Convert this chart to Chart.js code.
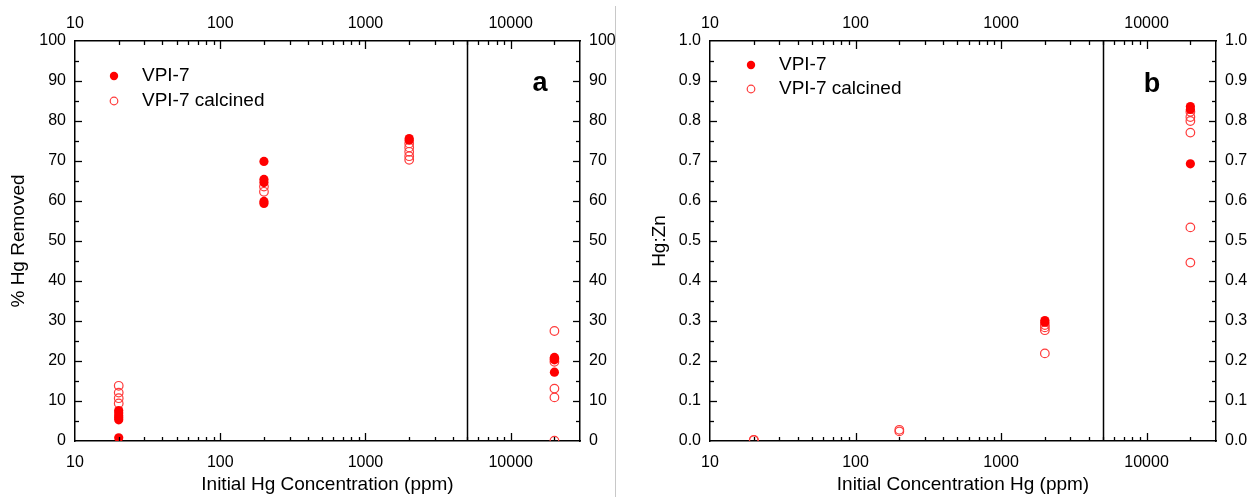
<!DOCTYPE html>
<html>
<head>
<meta charset="utf-8">
<script src="https://cdn.jsdelivr.net/npm/chart.js@4.4.0/dist/chart.umd.min.js"></script>
<style>
  html, body { margin: 0; padding: 0; background: #fff; }
  #wrap { position: relative; width: 1253px; height: 502px; }
  #boxA { position: absolute; left: 0; top: 0; width: 615px; height: 502px; }
  #boxB { position: absolute; left: 616px; top: 0; width: 637px; height: 502px; }
  #sep { position: absolute; left: 615px; top: 6px; width: 1px; height: 491px; background: #c8c8c8; }
</style>
</head>
<body>
<div id="wrap">
  <div id="boxA"><canvas id="chartA"></canvas></div>
  <div id="sep"></div>
  <div id="boxB"><canvas id="chartB"></canvas></div>
</div>
<script>
const FONT = "'Liberation Sans', Arial, Helvetica, sans-serif";

// shared log x axis (initial Hg, ppm)
const concTicks = [10, 100, 1000, 10000];
const concTickLabels = ['10', '100', '1000', '10000'];

// panel a - % Hg removed
const removedVpi7X = [20, 20, 20, 20, 20, 20, 200, 200, 200, 200, 200, 2000, 2000, 20000, 20000, 20000];
const removedVpi7Y = [7.6, 7.0, 6.3, 5.8, 5.3, 0.8, 69.9, 65.4, 64.6, 59.9, 59.4, 75.6, 75.2, 20.9, 20.3, 17.2];
const removedCalcX = [20, 20, 20, 20, 200, 200, 2000, 2000, 2000, 2000, 2000, 20000, 20000, 20000, 20000, 20000, 20000];
const removedCalcY = [13.8, 12.1, 10.7, 9.4, 63.6, 62.3, 74.4, 73.4, 72.3, 71.2, 70.3, 27.5, 20.6, 19.8, 13.1, 10.9, 0.1];
const removedTicks = [0, 10, 20, 30, 40, 50, 60, 70, 80, 90, 100];
const removedTickLabels = ['0', '10', '20', '30', '40', '50', '60', '70', '80', '90', '100'];

// panel b - Hg:Zn ratio
const ratioVpi7X = [2000, 2000, 20000, 20000, 20000];
const ratioVpi7Y = [0.301, 0.297, 0.836, 0.829, 0.693];
const ratioCalcX = [20, 20, 200, 200, 2000, 2000, 2000, 2000, 20000, 20000, 20000, 20000, 20000, 20000];
const ratioCalcY = [0.003, 0.002, 0.028, 0.024, 0.290, 0.284, 0.277, 0.219, 0.823, 0.810, 0.800, 0.771, 0.534, 0.446];
const ratioTicks = [0, 0.1, 0.2, 0.3, 0.4, 0.5, 0.6, 0.7, 0.8, 0.9, 1.0];
const ratioTickLabels = ['0.0', '0.1', '0.2', '0.3', '0.4', '0.5', '0.6', '0.7', '0.8', '0.9', '1.0'];

const seriesNames = ['VPI-7', 'VPI-7 calcined'];
const RED = '#ff0000';
const OPEN_RED = '#ff3b3b';

function toPoints(xs, ys) {
    return xs.map((x, i) => ({ x: x, y: ys[i] }));
}

// draws inward tick marks, the 5000 ppm divider, legend and panel letter
const panelDecor = {
    id: 'panelDecor',
    afterDraw(chart, args, opts) {
        const ctx = chart.ctx;
        const xs = chart.scales.x, ys = chart.scales.y;
        const a = chart.chartArea;
        const seg = (x1, y1, x2, y2) => { ctx.beginPath(); ctx.moveTo(x1, y1); ctx.lineTo(x2, y2); ctx.stroke(); };
        ctx.save();
        ctx.strokeStyle = '#000';
        ctx.lineWidth = 1.3;

        // log minor/major ticks on top and bottom
        for (let d = 10; d < 30000; d *= 10) {
            for (let m = 1; m < 10; m++) {
                const v = d * m;
                if (v <= 10 || v >= 30000) continue;
                const len = m === 1 ? 8 : 4;
                const px = Math.round(xs.getPixelForValue(v)) + 0.5;
                seg(px, a.bottom, px, a.bottom - len);
                seg(px, a.top, px, a.top + len);
            }
        }
        // y ticks left/right, majors + half steps
        const yt = opts.yTicks;
        const step = yt[1] - yt[0];
        yt.forEach((v) => {
            [[v, 7], [v + step / 2, 4]].forEach(([tv, len]) => {
                if (tv <= yt[0] || tv >= yt[yt.length - 1]) return;
                const py = Math.round(ys.getPixelForValue(tv)) + 0.5;
                seg(a.left, py, a.left + len, py);
                seg(a.right, py, a.right - len, py);
            });
        });

        // divider at 5000 ppm
        ctx.lineWidth = 1.5;
        const dx = Math.round(xs.getPixelForValue(opts.divider)) + 0.5;
        seg(dx, a.top, dx, a.bottom);

        // legend
        const lx = a.left + opts.legendDx;
        ctx.font = '19px ' + FONT;
        ctx.textBaseline = 'middle';
        ctx.beginPath();
        ctx.arc(lx, opts.legendY[0], 4.2, 0, Math.PI * 2);
        ctx.fillStyle = RED;
        ctx.fill();
        ctx.beginPath();
        ctx.arc(lx, opts.legendY[1], 3.8, 0, Math.PI * 2);
        ctx.strokeStyle = OPEN_RED;
        ctx.lineWidth = 1.2;
        ctx.stroke();
        ctx.fillStyle = '#000';
        ctx.fillText(seriesNames[0], lx + 28, opts.legendY[0]);
        ctx.fillText(seriesNames[1], lx + 28, opts.legendY[1]);

        // panel letter
        ctx.font = 'bold 27px ' + FONT;
        ctx.textAlign = 'center';
        ctx.fillText(opts.letter, opts.letterX, opts.letterY);
        ctx.restore();
    }
};

function makePanel(canvasId, cfg) {
    const tickFont = { family: FONT, size: 16 };
    const titleFont = { family: FONT, size: 19 };
    const border = { display: true, color: '#000', width: 1.5 };

    const xAxis = (pos) => ({
        type: 'logarithmic', position: pos, min: 10, max: 30000,
        afterBuildTicks: s => { s.ticks = concTicks.map(v => ({ value: v })); },
        afterFit: s => { s.height = pos === 'top' ? 41 : 61; },
        ticks: {
            autoSkip: false, maxRotation: 0, padding: pos === 'top' ? 8 : 12,
            color: '#000', font: tickFont,
            callback: (v, i) => concTickLabels[i]
        },
        grid: { display: false, drawTicks: false },
        border: border,
        title: pos === 'bottom'
            ? { display: true, text: cfg.xTitle, color: '#000', font: titleFont, padding: { top: 0, bottom: 6 } }
            : { display: false }
    });

    const yAxis = (pos) => ({
        type: 'linear', position: pos, min: 0, max: cfg.yMax,
        afterBuildTicks: s => { s.ticks = cfg.yTicks.map(v => ({ value: v })); },
        afterFit: s => { s.width = pos === 'left' ? cfg.leftW : cfg.rightW; },
        ticks: {
            padding: 9, color: '#000', font: tickFont,
            callback: (v, i) => cfg.yLabels[i]
        },
        grid: { display: false, drawTicks: false },
        border: border,
        title: pos === 'left'
            ? { display: true, text: cfg.yTitle, color: '#000', font: titleFont, padding: { top: cfg.yTitlePad, bottom: 0 } }
            : { display: false }
    });

    return new Chart(document.getElementById(canvasId), {
        type: 'scatter',
        data: {
            datasets: [
                {
                    // solid VPI-7 drawn on top
                    label: seriesNames[0],
                    data: cfg.filled,
                    pointRadius: 4.6,
                    pointBorderWidth: 0,
                    pointBorderColor: RED,
                    pointBackgroundColor: RED,
                    xAxisID: 'x', yAxisID: 'y'
                },
                {
                    label: seriesNames[1],
                    data: cfg.open,
                    pointRadius: 4.3,
                    pointBorderWidth: 1.2,
                    pointBorderColor: OPEN_RED,
                    pointBackgroundColor: 'rgba(255,255,255,0)',
                    xAxisID: 'x', yAxisID: 'y'
                }
            ]
        },
        options: {
            responsive: true,
            maintainAspectRatio: false,
            animation: false,
            events: [],
            layout: { padding: 0 },
            plugins: {
                legend: { display: false },
                tooltip: { enabled: false },
                panelDecor: cfg.decor
            },
            scales: {
                x: xAxis('bottom'),
                x2: xAxis('top'),
                y: yAxis('left'),
                y2: yAxis('right')
            }
        },
        plugins: [panelDecor]
    });
}

makePanel('chartA', {
    xTitle: 'Initial Hg Concentration (ppm)',
    yTitle: '% Hg Removed',
    yTitlePad: 7,
    yMax: 100,
    yTicks: removedTicks,
    yLabels: removedTickLabels,
    leftW: 75, rightW: 35,
    filled: toPoints(removedVpi7X, removedVpi7Y),
    open: toPoints(removedCalcX, removedCalcY),
    decor: { yTicks: removedTicks, divider: 5000, legendDx: 39, legendY: [76, 101], letter: 'a', letterX: 540, letterY: 84 }
});

makePanel('chartB', {
    xTitle: 'Initial Concentration Hg (ppm)',
    yTitle: 'Hg:Zn',
    yTitlePad: 32,
    yMax: 1.0,
    yTicks: ratioTicks,
    yLabels: ratioTickLabels,
    leftW: 94, rightW: 37,
    filled: toPoints(ratioVpi7X, ratioVpi7Y),
    open: toPoints(ratioCalcX, ratioCalcY),
    decor: { yTicks: ratioTicks, divider: 5000, legendDx: 41, legendY: [65, 89], letter: 'b', letterX: 536, letterY: 85 }
});
</script>
</body>
</html>
